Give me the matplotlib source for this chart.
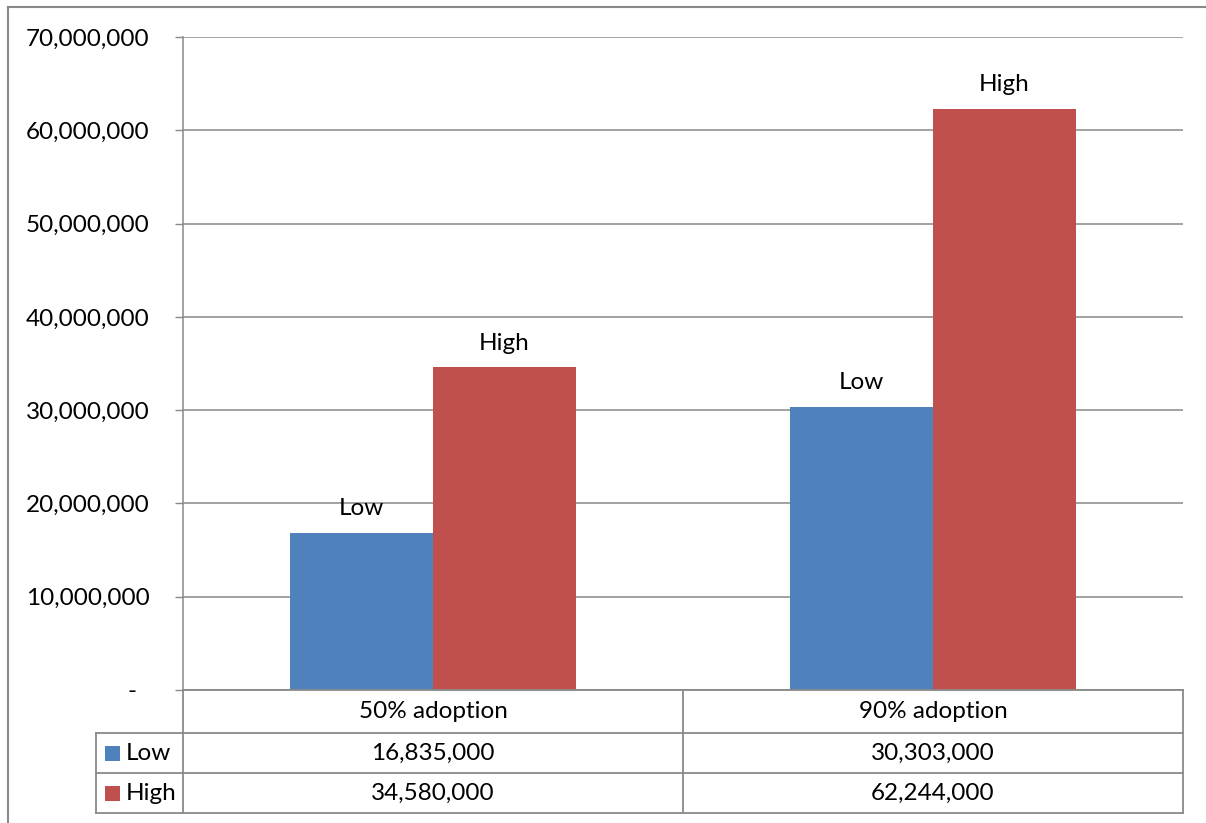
import matplotlib
matplotlib.use("Agg")
import matplotlib.pyplot as plt
from matplotlib.transforms import blended_transform_factory
from matplotlib.lines import Line2D
from matplotlib.patches import Rectangle

plt.rcParams['font.family'] = ['Lato', 'DejaVu Sans']

categories = ["50% adoption", "90% adoption"]
series_names = ["Low", "High"]
low_values = [16835000, 30303000]
high_values = [34580000, 62244000]
y_ticks = [0, 10000000, 20000000, 30000000, 40000000, 50000000, 60000000, 70000000]

colors = ["#4F81BD", "#C0504D"]
grid_c = "#898989"
FS = 17.5

W, H = 1206, 823
fig = plt.figure(figsize=(W / 100, H / 100), dpi=100)
L, R, T, B = 183, 1183, 37, 690
ax = fig.add_axes([L / W, 1 - B / H, (R - L) / W, (B - T) / H])

x = list(range(len(categories)))
bw = 0.286
b1 = ax.bar([i - bw / 2 for i in x], low_values, width=bw, color=colors[0], zorder=2)
b2 = ax.bar([i + bw / 2 for i in x], high_values, width=bw, color=colors[1], zorder=2)
ax.bar_label(b1, labels=[series_names[0]] * len(x), padding=10, fontsize=FS, zorder=3)
ax.bar_label(b2, labels=[series_names[1]] * len(x), padding=10, fontsize=FS, zorder=3)

ax.set_xlim(-0.5, len(categories) - 0.5)
ax.set_ylim(0, 70000000)
ax.set_yticks(y_ticks)
ax.set_yticklabels(["-  " if v == 0 else f"{v:,}" for v in y_ticks], fontsize=FS)
ax.tick_params(axis='y', length=6, width=1, color=grid_c, pad=18)
ax.set_xticks([])
ax.yaxis.grid(True, color=grid_c, lw=1.1, zorder=0)
for s in ["top", "right", "bottom"]:
    ax.spines[s].set_visible(False)
ax.spines["left"].set_color(grid_c)
ax.spines["left"].set_linewidth(1.1)

# data table below the axes
ah = B - T
def fy(py):
    return -(py - B) / ah
tr = blended_transform_factory(ax.transData, ax.transAxes)
trf = blended_transform_factory(fig.transFigure, ax.transAxes)
lw = 1.3
x0, x1 = -0.5, len(categories) - 0.5
left_px = 96 / W
rows = [690, 733, 773, 813]
# horizontal lines
ax.add_line(Line2D([x0, x1], [fy(690)] * 2, transform=tr, color=grid_c, lw=lw, clip_on=False))
for py in rows[1:]:
    ax.add_line(Line2D([left_px, R / W], [fy(py)] * 2, transform=trf, color=grid_c, lw=lw, clip_on=False))
# vertical lines
ax.add_line(Line2D([x0, x0], [fy(690), fy(813)], transform=tr, color=grid_c, lw=lw, clip_on=False))
for i in range(len(categories)):
    xb = i + 0.5
    ax.add_line(Line2D([xb, xb], [fy(690), fy(813)], transform=tr, color=grid_c, lw=lw, clip_on=False))
ax.add_line(Line2D([left_px, left_px], [fy(733), fy(813)], transform=trf, color=grid_c, lw=lw, clip_on=False))

for i, c in enumerate(categories):
    ax.text(i, fy(712), c, transform=tr, ha='center', va='center', fontsize=FS)
for r, (name, vals) in enumerate(zip(series_names, [low_values, high_values])):
    yc = fy((rows[r + 1] + rows[r + 2]) / 2)
    for i, v in enumerate(vals):
        ax.text(i, yc, f"{v:,}", transform=tr, ha='center', va='center', fontsize=FS)
    ax.text(126 / W, yc, name, transform=trf, ha='left', va='center', fontsize=FS)
    ax.add_patch(Rectangle((105 / W, yc - 7.5 / ah), 15 / W, 15 / ah, transform=trf,
                           facecolor=colors[r], edgecolor='none', clip_on=False))

# outer chart border (left and top edges visible)
fig.add_artist(Line2D([7.5 / W, 7.5 / W], [0, 1 - 7 / H], transform=fig.transFigure, color=grid_c, lw=1.5))
fig.add_artist(Line2D([7.5 / W, 1], [1 - 7 / H, 1 - 7 / H], transform=fig.transFigure, color=grid_c, lw=1.5))

fig.savefig("out.png", dpi=100)
